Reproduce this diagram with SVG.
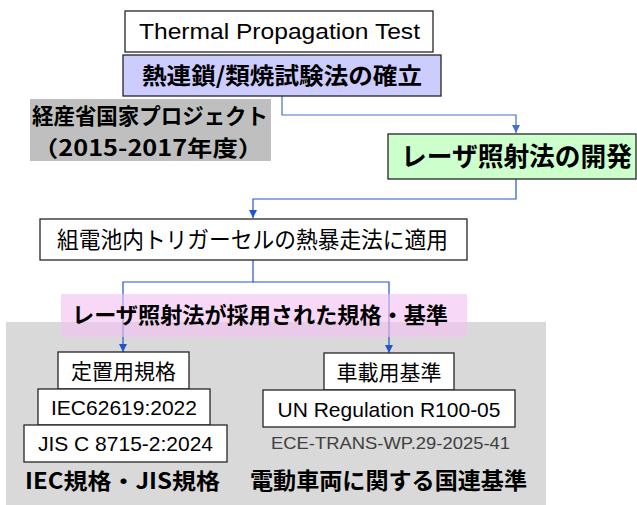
<svg xmlns="http://www.w3.org/2000/svg" width="637" height="505" viewBox="0 0 637 505">
<defs>
<style>
.box{stroke:#262626;stroke-width:1.3}
.w{fill:#ffffff}
.lat{font-family:"Liberation Sans",Arial,sans-serif;fill:#000}
.jp{font-family:"Noto Sans CJK JP","Noto Sans",sans-serif;fill:#000}
.b{font-weight:700}
.c1{fill:none;stroke:#4472c4;stroke-width:1.2}
.c2{fill:none;stroke:#2255cc;stroke-width:1.2}
</style>
<marker id="a1" viewBox="0 0 10 10" refX="10" refY="5" markerWidth="8" markerHeight="8" markerUnits="userSpaceOnUse" orient="auto"><path d="M0,0 L10,5 L0,10 z" fill="#4472c4"/></marker>
<marker id="a2" viewBox="0 0 10 10" refX="10" refY="5" markerWidth="8" markerHeight="8" markerUnits="userSpaceOnUse" orient="auto"><path d="M0,0 L10,5 L0,10 z" fill="#2255cc"/></marker>
</defs>
<rect x="0" y="0" width="637" height="505" fill="#ffffff"/>
<rect id="std-area" x="6" y="322" width="540" height="183" fill="#d9d9d9"/>

<g id="project-label">
<rect x="30" y="99" width="241" height="62" fill="#bfbfbf"/>
<text class="jp b" x="32" y="124" font-size="22" textLength="236" lengthAdjust="spacingAndGlyphs">経産省国家プロジェクト</text>
<text class="jp b" x="33" y="156" font-size="22" textLength="230" lengthAdjust="spacingAndGlyphs">（2015-2017年度）</text>
</g>

<g id="connectors">
<path class="c1" d="M282,96 V115 H516 V133" marker-end="url(#a1)"/>
<path class="c2" d="M516,179 V199 H253 V218" marker-end="url(#a2)"/>
<path class="c2" d="M253,260 V282 H123 V352" marker-end="url(#a2)"/>
<path class="c2" d="M253,282 H389 V353" marker-end="url(#a2)"/>
</g>

<g id="thermal-test">
<rect class="box w" x="125" y="11" width="308" height="41"/>
<text class="lat" x="139" y="39" font-size="22" textLength="281" lengthAdjust="spacingAndGlyphs">Thermal Propagation Test</text>
</g>

<g id="establish">
<rect class="box" x="123" y="55" width="318" height="41" fill="#ccccff"/>
<text class="jp b" x="142" y="84" font-size="23" textLength="280" lengthAdjust="spacingAndGlyphs">熱連鎖/類焼試験法の確立</text>
</g>

<g id="laser-dev">
<rect class="box" x="388" y="134" width="248" height="45" fill="#ccffcc"/>
<text class="jp b" x="401" y="166" font-size="26" textLength="231" lengthAdjust="spacingAndGlyphs">レーザ照射法の開発</text>
</g>

<g id="apply">
<rect class="box w" x="40" y="219" width="427" height="41"/>
<text class="jp" x="57" y="248" font-size="23" textLength="391" lengthAdjust="spacingAndGlyphs">組電池内トリガーセルの熱暴走法に適用</text>
</g>

<g id="adopted-label">
<rect x="61" y="294" width="406" height="43" fill="#f2c2f2" fill-opacity="0.62"/>
<text class="jp b" x="72" y="323" font-size="22" textLength="376" lengthAdjust="spacingAndGlyphs">レーザ照射法が採用された規格・基準</text>
</g>

<g id="stationary">
<rect class="box w" x="58" y="352" width="131" height="37"/>
<text class="jp" x="123.5" y="379" font-size="21" text-anchor="middle">定置用規格</text>
</g>

<g id="iec">
<rect class="box w" x="38" y="389" width="172" height="36"/>
<text class="lat" x="124" y="415" font-size="21" text-anchor="middle">IEC62619:2022</text>
</g>

<g id="jis">
<rect class="box w" x="24" y="425" width="203" height="37"/>
<text class="lat" x="125.5" y="451" font-size="21" text-anchor="middle">JIS C 8715-2:2024</text>
</g>

<g id="vehicle">
<rect class="box w" x="324" y="353" width="130" height="37"/>
<text class="jp" x="389" y="380" font-size="21" text-anchor="middle">車載用基準</text>
</g>

<g id="un">
<rect class="box w" x="263" y="390" width="252" height="37"/>
<text class="lat" x="389" y="417" font-size="21" text-anchor="middle">UN Regulation R100-05</text>
</g>

<g id="ece">
<text class="lat" x="271" y="449" font-size="17" style="fill:#404040" textLength="239" lengthAdjust="spacingAndGlyphs">ECE-TRANS-WP.29-2025-41</text>
</g>

<g id="iec-jis-label">
<text class="jp b" x="25" y="489" font-size="22" textLength="195" lengthAdjust="spacingAndGlyphs">IEC規格・JIS規格</text>
</g>

<g id="un-label">
<text class="jp b" x="250" y="489" font-size="23" textLength="277" lengthAdjust="spacingAndGlyphs">電動車両に関する国連基準</text>
</g>
</svg>
